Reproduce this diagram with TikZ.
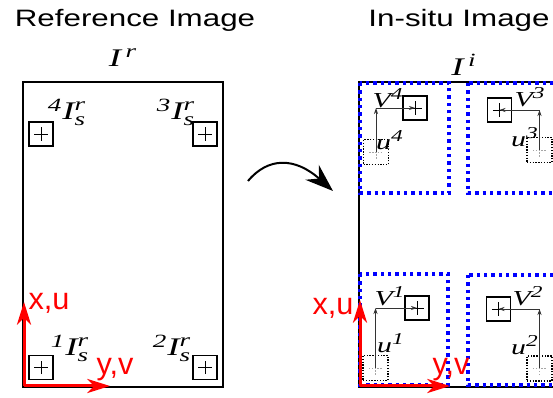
\documentclass[tikz,border=0pt]{standalone}
\usepackage{amsmath}
\usepackage{fontspec}
\setsansfont{Liberation Sans}
\newfontfamily\tms{Liberation Serif}
\newcommand\ti[1]{\text{\tms\itshape #1}}
\DeclareMathSizes{19}{19}{14}{10}
\DeclareMathSizes{16}{16}{12.5}{9}
\usetikzlibrary{arrows.meta}
\def\plusarm{4.9pt}
\tikzset{
	imgtitle/.style={font=\sffamily\fontsize{17.8}{20}\selectfont, xscale=1.32, inner sep=0pt, anchor=base},
	axlabel/.style={font=\sffamily\fontsize{23}{26}\selectfont, text=red, inner sep=0pt, anchor=base},
	imglabel/.style={font=\fontsize{19}{22}\selectfont, xscale=1.45, inner sep=0pt},
	veclabel/.style={font=\fontsize{16}{19}\selectfont, xscale=1.4, inner sep=0pt},
	plusbox/.style={draw, line width=1.3pt, minimum size=18pt, inner sep=0pt, path picture={
		\draw[line width=0.5pt] (path picture bounding box.center) +(-\plusarm,0pt) -- +(\plusarm,0pt);
		\draw[line width=0.5pt] (path picture bounding box.center) +(0pt,-\plusarm) -- +(0pt,\plusarm);}},
	dotbox/.style={draw, line width=0.8pt, dash pattern=on 1pt off 1.1pt, minimum size=18.75pt, inner sep=0pt, path picture={
		\draw[line width=0.5pt, black!35] (path picture bounding box.center) +(-\plusarm,0pt) -- +(\plusarm,0pt);
		\draw[line width=0.5pt, black!35] (path picture bounding box.center) +(0pt,-\plusarm) -- +(0pt,\plusarm);}},
	blockline/.style={blue, line width=2.6pt, dash pattern=on 2.6pt off 2.9pt},
	axarrow/.style={red, line width=2.25pt, -{Stealth[length=17pt, width=10.5pt, inset=5pt]}},
	vecarrow/.style={black!80, line width=0.6pt, -{Stealth[length=4.5pt, width=3pt]}}
}

\begin{document}
\begin{tikzpicture}[x=0.75pt, y=-0.75pt]
	\useasboundingbox (0,0) rectangle (553,398);
	%%%%% START %%%%%
	
	\node[imgtitle] (reftitle) at (135, 27) {Reference Image};
	\node[imgtitle] (insitutitle) at (459, 27) {In-situ Image};
	
	%% reference image
	\draw[line width=1.3pt] (23, 82) rectangle (223, 387);
	\node[imglabel] (ir) at (123, 58) {$\ti{I}^{\,\ti{r}}$};
	
	\node[plusbox] (box1) at (41, 367.5) {};
	\node[plusbox] (box2) at (205, 367.5) {};
	\node[plusbox] (box3) at (205, 134) {};
	\node[plusbox] (box4) at (41, 134) {};
	\node[imglabel] (lab1) at (70, 348) {${}^{\ti{1}}\ti{I}_{\ti{s}}^{\ti{r}}$};
	\node[imglabel] (lab2) at (172, 348) {${}^{\ti{2}}\ti{I}_{\ti{s}}^{\ti{r}}$};
	\node[imglabel] (lab3) at (176, 112) {${}^{\ti{3}}\ti{I}_{\ti{s}}^{\ti{r}}$};
	\node[imglabel] (lab4) at (67, 112) {${}^{\ti{4}}\ti{I}_{\ti{s}}^{\ti{r}}$};
	
	\coordinate (orgr) at (24, 386);
	\coordinate (xr) at (24, 302);
	\coordinate (yr) at (110, 386);
	\draw[axarrow] (orgr) -- (xr);
	\draw[axarrow] (orgr) -- (yr);
	\node[axlabel] (xur) at (49, 310) {x,u};
	\node[axlabel] (yvr) at (115, 375) {y,v};
	
	%% curved arrow
	\coordinate (bendfrom) at (248, 181);
	\coordinate (bendto) at (333, 191);
	\draw[line width=1.5pt, -{Stealth[length=21pt, width=15pt, inset=7pt]}] (bendfrom) .. controls (268, 157) and (295, 157) .. (bendto);
	
	%% in-situ image
	\draw[line width=1.3pt] (359, 82) rectangle (562, 387);
	\node[imglabel] (ii) at (464, 65) {$\ti{I}^{\,\ti{i}}$};
	
	\draw[blockline] (360, 83) rectangle (449, 193);
	\draw[blockline] (468, 83) rectangle (562, 193);
	\draw[blockline] (360, 274) rectangle (448, 385);
	\draw[blockline] (468, 275) rectangle (562, 385);
	
	% block 4
	\node[plusbox] (sb4) at (415, 108) {};
	\node[dotbox] (db4) at (376, 152) {};
	\coordinate (c4) at (db4.center |- sb4.center);
	\draw[vecarrow] (db4.center) -- (c4);
	\draw[vecarrow] (c4) -- (sb4.center);
	\node[veclabel] (v4) at (388, 98) {$\ti{V}^{\ti{4}}$};
	\node[veclabel] (u4) at (390, 140) {$\ti{u}^{\ti{4}}$};
	
	% block 3
	\node[plusbox] (sb3) at (499.5, 110) {};
	\node[dotbox] (db3) at (539.5, 150) {};
	\coordinate (c3) at (db3.center |- sb3.center);
	\draw[vecarrow] (db3.center) -- (c3);
	\draw[vecarrow] (c3) -- (sb3.center);
	\node[veclabel] (v3) at (530, 97) {$\ti{V}^{\ti{3}}$};
	\node[veclabel] (u3) at (525, 137) {$\ti{u}^{\ti{3}}$};
	
	% block 1
	\node[plusbox] (sb1) at (417, 308) {};
	\node[dotbox] (db1) at (375.5, 368) {};
	\coordinate (c1) at (db1.center |- sb1.center);
	\draw[vecarrow] (db1.center) -- (c1);
	\draw[vecarrow] (c1) -- (sb1.center);
	\node[veclabel] (v1) at (390, 296) {$\ti{V}^{\ti{1}}$};
	\node[veclabel] (u1) at (391, 343) {$\ti{u}^{\ti{1}}$};
	
	% block 2
	\node[plusbox] (sb2) at (498.5, 309) {};
	\node[dotbox] (db2) at (539.5, 368.5) {};
	\coordinate (c2) at (db2.center |- sb2.center);
	\draw[vecarrow] (db2.center) -- (c2);
	\draw[vecarrow] (c2) -- (sb2.center);
	\node[veclabel] (v2) at (528, 296) {$\ti{V}^{\ti{2}}$};
	\node[veclabel] (u2) at (525, 345) {$\ti{u}^{\ti{2}}$};
	
	\coordinate (orgi) at (360, 386);
	\coordinate (xi) at (360, 300);
	\coordinate (yi) at (450, 386);
	\draw[axarrow] (orgi) -- (xi);
	\draw[axarrow] (orgi) -- (yi);
	\node[axlabel] (xui) at (333, 315) {x,u};
	\node[axlabel] (yvi) at (451, 375) {y,v};
	
	%%%%% END %%%%%
\end{tikzpicture}
\end{document}
